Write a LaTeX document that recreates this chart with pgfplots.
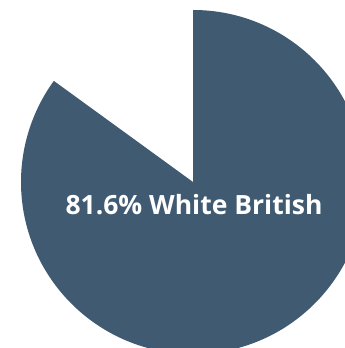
\documentclass[border=0pt]{standalone}
\usepackage{pgfplots}
\pgfplotsset{compat=1.18}
\usepackage{fontspec}
\setmainfont{Open Sans}
\definecolor{slice}{RGB}{64,90,114}
% slice: value (percent of label), start angle, end angle (clockwise from top, as drawn)
\def\sliceval{81.6}
\def\startang{90}
\def\endang{-216}
\begin{document}
\begin{tikzpicture}
\begin{axis}[
  hide axis, scale only axis,
  width=345pt, height=348pt,
  xmin=0, xmax=345, ymin=0, ymax=348,
  clip=true,
]
\fill[slice] (axis cs:193,166) -- ++(\startang:172pt) arc[start angle=\startang, end angle=\endang, radius=172pt] -- cycle;
\node[text=white, font=\bfseries\fontsize{26.5}{30}\selectfont, anchor=center] at (axis cs:194,143) {\sliceval\% White British};
\end{axis}
\pgfresetboundingbox
\useasboundingbox (0,0) rectangle (345pt,348pt);
\end{tikzpicture}
\end{document}
